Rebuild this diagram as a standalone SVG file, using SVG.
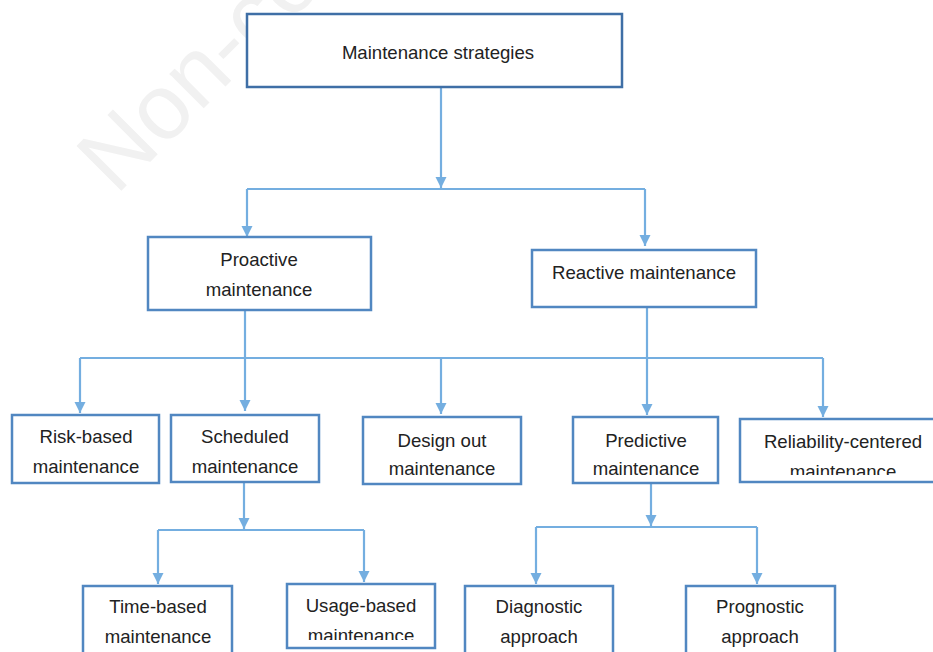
<svg xmlns="http://www.w3.org/2000/svg" width="933" height="652" viewBox="0 0 933 652">
<style>
.box{fill:#fff;stroke:#5187c1;stroke-width:2.5}
.top{stroke:#3f6fa6}
.con{fill:none;stroke:#74aee0;stroke-width:2.2}
text{font-family:"Liberation Sans",Arial,sans-serif;font-size:18.6px;fill:#222;text-anchor:middle}
.wm{font-size:92px;fill:#f1f1f1;text-anchor:start}
</style>
<defs>
<marker id="arr" markerUnits="userSpaceOnUse" markerWidth="12" markerHeight="12" viewBox="0 0 12 12" refX="11" refY="6" orient="auto">
<path d="M0,0.5 L11,6 L0,11.5 Z" fill="#74aee0"/>
</marker>
<clipPath id="clipRel"><rect x="740" y="419" width="200" height="56"/></clipPath>
<clipPath id="clipUsage"><rect x="287" y="584" width="148" height="56"/></clipPath>
</defs>
<text class="wm" transform="translate(116,196) rotate(-45)">Non-co</text>
<g id="connectors">
<path class="con" d="M441,87 V188" marker-end="url(#arr)"/>
<path class="con" d="M247,189 H645"/>
<path class="con" d="M247,189 V237" marker-end="url(#arr)"/>
<path class="con" d="M645,189 V246" marker-end="url(#arr)"/>
<path class="con" d="M245,310 V411" marker-end="url(#arr)"/>
<path class="con" d="M80,358 H823"/>
<path class="con" d="M80,358 V413" marker-end="url(#arr)"/>
<path class="con" d="M441,358 V414" marker-end="url(#arr)"/>
<path class="con" d="M647,307 V415" marker-end="url(#arr)"/>
<path class="con" d="M823,358 V417" marker-end="url(#arr)"/>
<path class="con" d="M244,482 V529" marker-end="url(#arr)"/>
<path class="con" d="M158,530 H364"/>
<path class="con" d="M158,530 V584" marker-end="url(#arr)"/>
<path class="con" d="M364,530 V582" marker-end="url(#arr)"/>
<path class="con" d="M651,483 V526" marker-end="url(#arr)"/>
<path class="con" d="M536,527 H757"/>
<path class="con" d="M536,527 V584" marker-end="url(#arr)"/>
<path class="con" d="M757,527 V584" marker-end="url(#arr)"/>
</g>
<g id="n-strategies"><rect class="box top" x="247" y="14" width="375" height="73"/><text x="438" y="59">Maintenance strategies</text></g>
<g id="n-proactive"><rect class="box" x="148" y="237" width="223" height="73"/><text x="259" y="266">Proactive</text><text x="259" y="296">maintenance</text></g>
<g id="n-reactive"><rect class="box" x="532" y="250" width="224" height="57"/><text x="644" y="279">Reactive maintenance</text></g>
<g id="n-risk"><rect class="box" x="12" y="415" width="147" height="68"/><text x="86" y="443">Risk-based</text><text x="86" y="473">maintenance</text></g>
<g id="n-scheduled"><rect class="box" x="171" y="415" width="148" height="67"/><text x="245" y="443">Scheduled</text><text x="245" y="473">maintenance</text></g>
<g id="n-design"><rect class="box" x="363" y="417" width="158" height="67"/><text x="442" y="447">Design out</text><text x="442" y="475">maintenance</text></g>
<g id="n-predictive"><rect class="box" x="573" y="417" width="145" height="66"/><text x="646" y="447">Predictive</text><text x="646" y="475">maintenance</text></g>
<g id="n-reliability"><rect class="box" x="740" y="419" width="210" height="63"/><g clip-path="url(#clipRel)"><text x="843" y="448">Reliability-centered</text><text x="843" y="478">maintenance</text></g></g>
<g id="n-time"><rect class="box" x="83" y="586" width="149" height="80"/><text x="158" y="613">Time-based</text><text x="158" y="643">maintenance</text></g>
<g id="n-usage"><rect class="box" x="287" y="584" width="148" height="64"/><g clip-path="url(#clipUsage)"><text x="361" y="612">Usage-based</text><text x="361" y="642">maintenance</text></g></g>
<g id="n-diagnostic"><rect class="box" x="465" y="586" width="148" height="80"/><text x="539" y="613">Diagnostic</text><text x="539" y="643">approach</text></g>
<g id="n-prognostic"><rect class="box" x="686" y="586" width="149" height="80"/><text x="760" y="613">Prognostic</text><text x="760" y="643">approach</text></g>
</svg>
